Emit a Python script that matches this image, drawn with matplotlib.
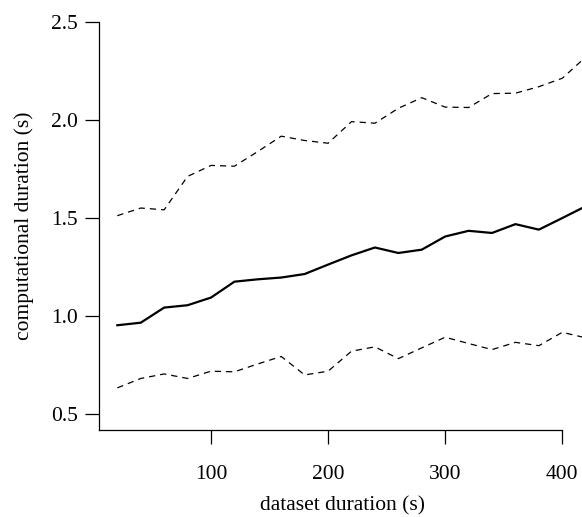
import numpy as np
import matplotlib
matplotlib.use("Agg")
import matplotlib.pyplot as plt

# dataset duration (s)
durations = [20, 40, 60, 80, 100, 120, 140, 160, 180, 200, 220,
             240, 260, 280, 300, 320, 340, 360, 380, 400, 420]

# computational duration (s): mean and the two bounds
mean_time = [0.954, 0.967, 1.044, 1.056, 1.095, 1.176, 1.188, 1.197, 1.215, 1.263, 1.31,
             1.350, 1.322, 1.339, 1.406, 1.435, 1.424, 1.469, 1.441, 1.50, 1.56]
upper_time = [1.512, 1.551, 1.542, 1.712, 1.768, 1.764, 1.839, 1.917, 1.895, 1.881, 1.991,
              1.983, 2.059, 2.113, 2.065, 2.063, 2.134, 2.136, 2.169, 2.212, 2.32]
lower_time = [0.635, 0.683, 0.706, 0.683, 0.720, 0.717, 0.757, 0.795, 0.701, 0.720, 0.822,
              0.844, 0.784, 0.839, 0.893, 0.861, 0.830, 0.867, 0.850, 0.918, 0.89]

xticks = [100, 200, 300, 400]
yticks = [0.5, 1.0, 1.5, 2.0, 2.5]

plt.rcParams['font.family'] = ['Liberation Serif', 'DejaVu Serif']
plt.rcParams['font.size'] = 15.5

fig = plt.figure(figsize=(5.82, 5.17), dpi=100)
ax = fig.add_axes([98.7 / 582, 86.7 / 517, 487 / 582, 408.6 / 517])

#the three lines
ax.plot(durations, mean_time, color='black', lw=1.6)
ax.plot(durations, upper_time, color='black', lw=0.9, dashes=(5, 4))
ax.plot(durations, lower_time, color='black', lw=0.9, dashes=(5, 4))

ax.set_xlim(4.1, 420)
ax.set_ylim(0.419, 2.5)

#R-like axes
ax.spines['top'].set_visible(False)
ax.spines['right'].set_visible(False)
ax.spines['bottom'].set_bounds(4.1, 400)
ax.spines['left'].set_bounds(0.419, 2.5)
for s in ['left', 'bottom']:
	ax.spines[s].set_linewidth(0.9)

ax.set_xticks(xticks)
ax.set_xticklabels([str(t) for t in xticks])
ax.set_yticks(yticks)
ax.set_yticklabels(['%.1f' % t for t in yticks])
ax.tick_params(axis='both', direction='out', length=10, width=0.9, colors='black')
ax.tick_params(axis='x', pad=15)
ax.tick_params(axis='y', pad=5)

ax.set_xlabel('dataset duration (s)', labelpad=8.5)
ax.set_ylabel('computational duration (s)', labelpad=12)

fig.savefig('out.png', dpi=100)
